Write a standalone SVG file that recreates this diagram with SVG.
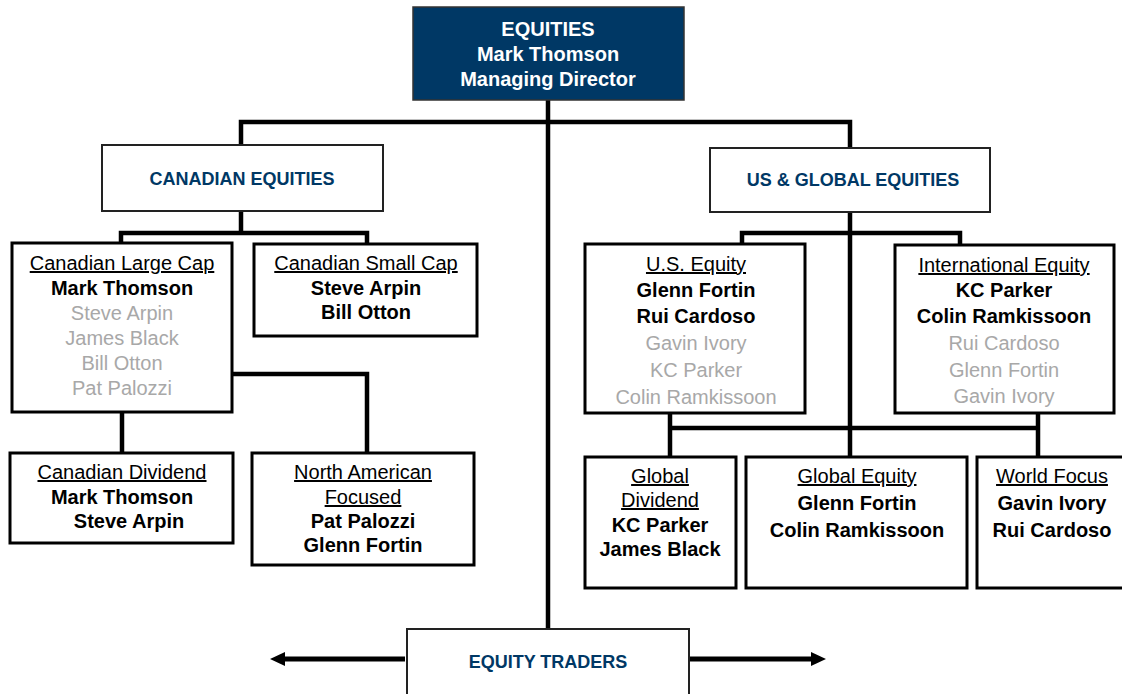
<svg xmlns="http://www.w3.org/2000/svg" width="1122" height="694" viewBox="0 0 1122 694">
<style>
.box{fill:#fff;stroke:#000;stroke-width:3}
.hbox{fill:#fff;stroke:#222;stroke-width:2}
.top{fill:#003865;stroke:#333;stroke-width:1.5}
text{font-family:"Liberation Sans",Arial,Helvetica,sans-serif;font-size:20px;text-anchor:middle}
.b{font-weight:bold;fill:#000}
.g{fill:#a8a8a8}
.u{text-decoration:underline;fill:#000}
.h{font-size:18px;font-weight:bold;fill:#003865}
.w{fill:#fff;font-weight:bold}
.c{fill:none;stroke:#000;stroke-width:4.5;stroke-linejoin:miter}
.a{fill:none;stroke:#000;stroke-width:5}
</style>
<defs>
<marker id="arr" markerUnits="userSpaceOnUse" markerWidth="15" markerHeight="14" viewBox="0 0 15 14" refX="0" refY="7" orient="auto">
<path d="M0,0 L15,7 L0,14 z" fill="#000"/>
</marker>
</defs>
<rect width="1122" height="694" fill="#fff"/>
<g id="connectors">
<path class="c" d="M548,100 V629"/>
<path class="c" d="M241,145 V122 H850 V148"/>
<path class="c" d="M241,211 V233"/>
<path class="c" d="M121,243 V233 H367 V244"/>
<path class="c" d="M850,212 V457"/>
<path class="c" d="M742,244 V233 H960 V245"/>
<path class="c" d="M122,412 V453"/>
<path class="c" d="M232,374 H367 V453"/>
<path class="c" d="M670,413 V457"/>
<path class="c" d="M1038,413 V457"/>
<path class="c" d="M670,428 H1038"/>
<path class="a" d="M405,659 H285" marker-end="url(#arr)"/>
<path class="a" d="M690,659 H811" marker-end="url(#arr)"/>
</g>
<g id="equities">
<rect class="top" x="413" y="7" width="271" height="93"/>
<text class="w" x="548" y="36">EQUITIES</text>
<text class="w" x="548" y="61">Mark Thomson</text>
<text class="w" x="548" y="86">Managing Director</text>
</g>
<g id="canadian-equities">
<rect class="hbox" x="102" y="145" width="281" height="66"/>
<text class="h" x="242" y="185">CANADIAN EQUITIES</text>
</g>
<g id="us-global-equities">
<rect class="hbox" x="710" y="148" width="280" height="64"/>
<text class="h" x="853" y="186">US &amp; GLOBAL EQUITIES</text>
</g>
<g id="canadian-large-cap">
<rect class="box" x="12" y="243" width="220" height="169"/>
<text class="u" x="122" y="270">Canadian Large Cap</text>
<text class="b" x="122" y="295">Mark Thomson</text>
<text class="g" x="122" y="320">Steve Arpin</text>
<text class="g" x="122" y="345">James Black</text>
<text class="g" x="122" y="370">Bill Otton</text>
<text class="g" x="122" y="395">Pat Palozzi</text>
</g>
<g id="canadian-small-cap">
<rect class="box" x="254" y="244" width="223" height="92"/>
<text class="u" x="366" y="270">Canadian Small Cap</text>
<text class="b" x="366" y="295">Steve Arpin</text>
<text class="b" x="366" y="319">Bill Otton</text>
</g>
<g id="canadian-dividend">
<rect class="box" x="10" y="453" width="223" height="90"/>
<text class="u" x="122" y="479">Canadian Dividend</text>
<text class="b" x="122" y="504">Mark Thomson</text>
<text class="b" x="129" y="528">Steve Arpin</text>
</g>
<g id="north-american-focused">
<rect class="box" x="252" y="453" width="222" height="112"/>
<text class="u" x="363" y="479">North American</text>
<text class="u" x="363" y="504">Focused</text>
<text class="b" x="363" y="528">Pat Palozzi</text>
<text class="b" x="363" y="552">Glenn Fortin</text>
</g>
<g id="us-equity">
<rect class="box" x="585" y="244" width="220" height="169"/>
<text class="u" x="696" y="271">U.S. Equity</text>
<text class="b" x="696" y="297">Glenn Fortin</text>
<text class="b" x="696" y="323">Rui Cardoso</text>
<text class="g" x="696" y="350">Gavin Ivory</text>
<text class="g" x="696" y="377">KC Parker</text>
<text class="g" x="696" y="404">Colin Ramkissoon</text>
</g>
<g id="international-equity">
<rect class="box" x="895" y="245" width="219" height="168"/>
<text class="u" x="1004" y="272">International Equity</text>
<text class="b" x="1004" y="297">KC Parker</text>
<text class="b" x="1004" y="323">Colin Ramkissoon</text>
<text class="g" x="1004" y="350">Rui Cardoso</text>
<text class="g" x="1004" y="377">Glenn Fortin</text>
<text class="g" x="1004" y="403">Gavin Ivory</text>
</g>
<g id="global-dividend">
<rect class="box" x="585" y="457" width="151" height="131"/>
<text class="u" x="660" y="483">Global</text>
<text class="u" x="660" y="507">Dividend</text>
<text class="b" x="660" y="532">KC Parker</text>
<text class="b" x="660" y="556">James Black</text>
</g>
<g id="global-equity">
<rect class="box" x="746" y="457" width="221" height="131"/>
<text class="u" x="857" y="483">Global Equity</text>
<text class="b" x="857" y="510">Glenn Fortin</text>
<text class="b" x="857" y="537">Colin Ramkissoon</text>
</g>
<g id="world-focus">
<rect class="box" x="977" y="457" width="160" height="131"/>
<text class="u" x="1052" y="483">World Focus</text>
<text class="b" x="1052" y="510">Gavin Ivory</text>
<text class="b" x="1052" y="537">Rui Cardoso</text>
</g>
<g id="equity-traders">
<rect class="hbox" x="407" y="629" width="282" height="75"/>
<text class="h" x="548" y="668">EQUITY TRADERS</text>
</g>
</svg>
